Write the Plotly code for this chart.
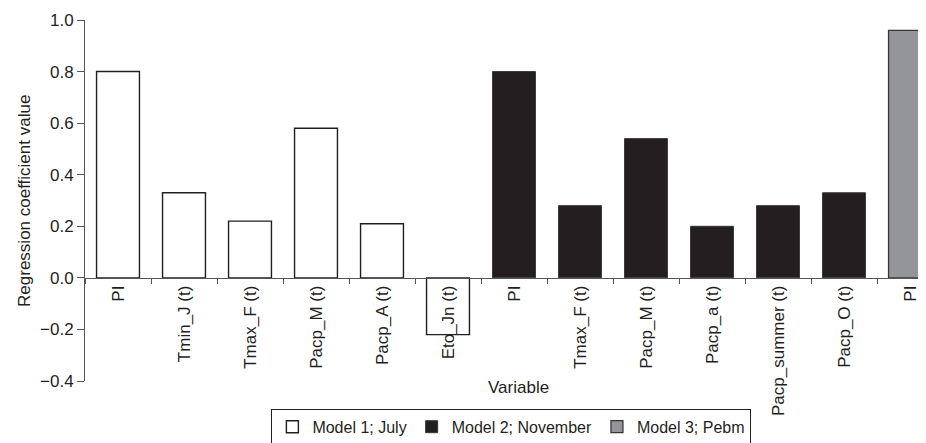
import plotly.graph_objects as go

categories = ["PI", "Tmin_J (t)", "Tmax_F (t)", "Pacp_M (t)", "Pacp_A (t)", "Eto_Jn (t)",
              "PI", "Tmax_F (t)", "Pacp_M (t)", "Pacp_a (t)", "Pacp_summer (t)", "Pacp_O (t)",
              "PI"]
model1_values = [0.80, 0.33, 0.22, 0.58, 0.21, -0.22]
model2_values = [0.80, 0.28, 0.54, 0.20, 0.28, 0.33]
model3_values = [0.96]
series_names = ["Model 1; July", "Model 2; November", "Model 3; Pebm"]
y_ticks = [-0.4, -0.2, 0.0, 0.2, 0.4, 0.6, 0.8, 1.0]

TXT = "#231f20"
FONT = "Liberation Sans, Arial, Helvetica, sans-serif"
FS = 17

n1, n2 = len(model1_values), len(model2_values)
x1 = list(range(0, n1))
x2 = list(range(n1, n1 + n2))
x3 = list(range(n1 + n2, n1 + n2 + len(model3_values)))

fig = go.Figure()
fig.add_trace(go.Bar(x=x1, y=model1_values, name=series_names[0],
                     marker=dict(color="white", line=dict(color=TXT, width=1.4))))
fig.add_trace(go.Bar(x=x2, y=model2_values, name=series_names[1],
                     marker=dict(color=TXT, line=dict(color="#3a3637", width=1))))
fig.add_trace(go.Bar(x=x3, y=model3_values, name=series_names[2],
                     marker=dict(color="#939598", line=dict(color="#3a3637", width=1.3))))

# page body has an 8px default margin; size the figure so it fills the window
W, H = 918, 435
ml, mr, mt, mb = 77, 0, 12, 62
ymin, ymax = -0.4, 1.0
zero_pos = (0 - ymin) / (ymax - ymin)
span = (W - ml - mr) / 66.0

fig.update_layout(
    width=W, height=H,
    margin=dict(l=ml, r=mr, t=mt, b=mb, autoexpand=False),
    paper_bgcolor="white", plot_bgcolor="white",
    barmode="overlay", bargap=0.35,
    font=dict(family=FONT, size=FS, color=TXT),
    showlegend=True,
    legend=dict(orientation="h", x=0.507, xanchor="center", y=-0.077, yanchor="top",
                bordercolor=TXT, borderwidth=1, font=dict(size=16, color=TXT),
                itemwidth=30, traceorder="normal"),
    xaxis=dict(
        range=[-0.5, -0.5 + span],
        tickmode="array", tickvals=list(range(len(categories))), ticktext=categories,
        tickangle=-90, ticks="", showgrid=False, zeroline=False,
        showline=True, linecolor="#555", linewidth=1,
        anchor="free", position=zero_pos,
        ticklabeloverflow="allow",
        tickfont=dict(size=FS, color=TXT),
        minor=dict(tickmode="linear", tick0=0.5, dtick=1, ticks="outside",
                   ticklen=5, tickcolor="#555", showgrid=False),
    ),
    yaxis=dict(
        range=[ymin, ymax], tickmode="array", tickvals=y_ticks,
        ticktext=[("\u2212%.1f" % abs(v)) if v < 0 else "%.1f" % v for v in y_ticks],
        ticks="outside", ticklen=7, tickcolor="#555",
        showline=True, linecolor="#555", linewidth=1,
        showgrid=False, zeroline=False,
        tickfont=dict(size=FS, color=TXT),
    ),
    annotations=[
        dict(text="Variable", xref="paper", yref="paper", x=0.515, y=-0.019,
             xanchor="center", yanchor="middle", showarrow=False,
             font=dict(size=FS, color=TXT)),
        dict(text="Regression coefficient value", xref="paper", yref="paper",
             x=-0.072, y=0.5, xanchor="center", yanchor="middle", textangle=-90,
             showarrow=False, font=dict(size=FS, color=TXT)),
    ],
)

fig.write_html("out.html")
